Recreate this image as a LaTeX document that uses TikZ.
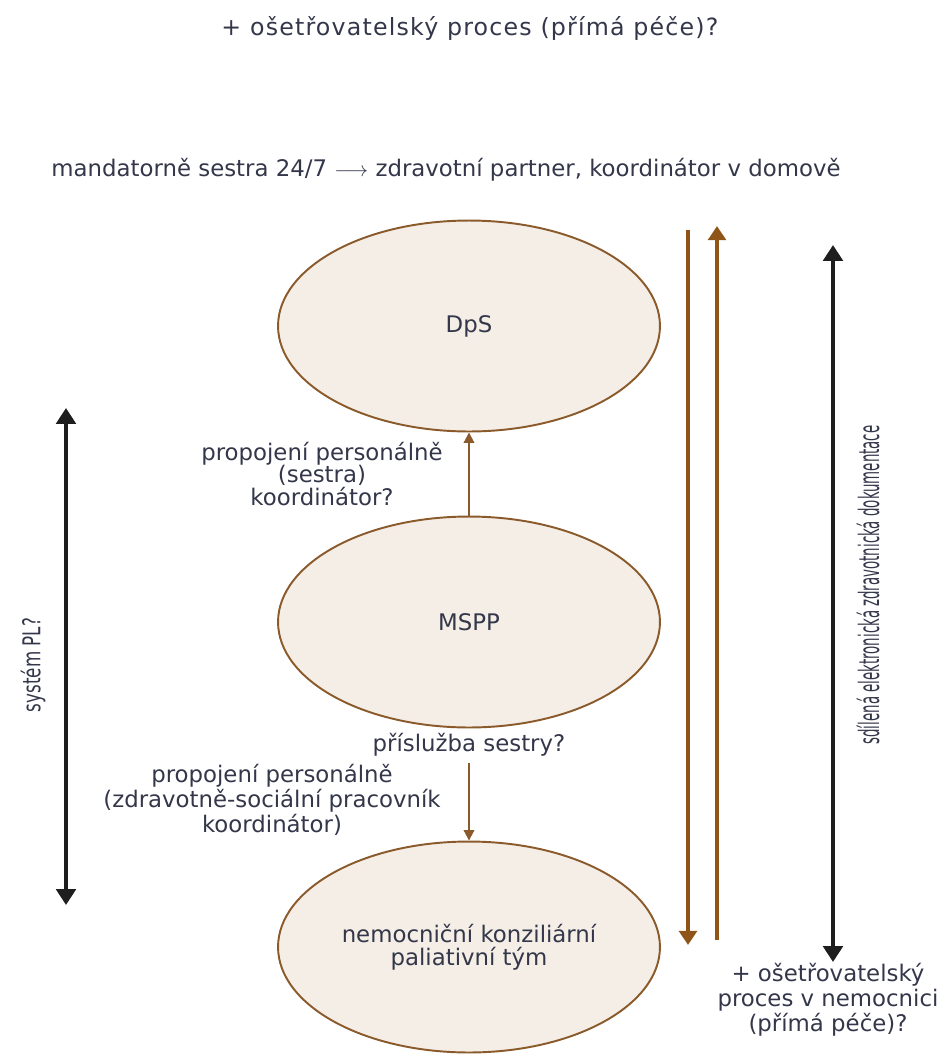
\documentclass[tikz,border=0pt]{standalone}
\usepackage{fontspec}
\setmainfont{DejaVu Sans}
\usetikzlibrary{shapes.geometric, arrows.meta}

\definecolor{hneda}{HTML}{8B5A2B}
\definecolor{hnedasipka}{HTML}{8E5418}
\definecolor{bezova}{HTML}{F4EEE6}
\definecolor{textbarva}{HTML}{34374A}
\definecolor{cerna}{HTML}{1E1E1E}

\begin{document}
\begin{tikzpicture}[x=0.02cm, y=-0.02cm,
    every node/.style={text=textbarva, font=\fontsize{13}{13}\selectfont, align=center},
    ovalnode/.style={ellipse, draw=hneda, fill=bezova, line width=1.1pt, minimum width=7.64cm, minimum height=4.22cm, inner sep=0pt},
    spoj/.style={draw=hneda, line width=1.1pt, -{Triangle[width=6pt, length=6pt]}},
    hnedaosa/.style={draw=hnedasipka, line width=2.8pt, -{Triangle[width=10pt, length=8pt]}},
    cernaosa/.style={draw=cerna, line width=2.8pt, {Triangle[width=11pt, length=9pt]}-{Triangle[width=11pt, length=9pt]}}]
    \useasboundingbox (0,0) rectangle (945,1056);
    % Ovals
    \node[ovalnode] (DpS) at (469,326) {DpS};
    \node[ovalnode] (MSPP) at (469,622) {MSPP};
    \node[ovalnode] (PT) at (469,947) {nemocniční konziliární\\paliativní tým};
    % Texts
    \node[font=\fontsize{13.5}{14}\selectfont\addfontfeatures{LetterSpace=5}] (top) at (470,28) {+ ošetřovatelský proces (přímá péče)?};
    \node (mandat) at (446,170) {mandatorně sestra 24/7 $\longrightarrow$ zdravotní partner, koordinátor v domově};
    \node (lab1) at (322,474) {propojení personálně\\(sestra)\\koordinátor?};
    \node (sluzba) at (469,745) {příslužba sestry?};
    \node (lab2) at (272,800) {propojení personálně\\(zdravotně-sociální pracovník\\koordinátor)};
    \node[font=\fontsize{13}{14.2}\selectfont] (nemoc) at (828,1000) {+ ošetřovatelský\\proces v nemocnici\\(přímá péče)?};
    \node[rotate=90, font=\fontsize{14}{14}\selectfont] (PL) at (33,665) {\scalebox{0.68}[1]{systém PL?}};
    \node[rotate=90, font=\fontsize{16}{16}\selectfont] (EZD) at (868,585) {\scalebox{0.475}[1]{sdílená elektronická zdravotnická dokumentace}};
    % Ends of the long arrows
    \foreach \name/\x/\ya/\yb in {PL/66/905/408, dolu/688/230/945, nahoru/717/940/226, ezd/833/962/245} {
        \coordinate (\name-a) at (\x,\ya);
        \coordinate (\name-b) at (\x,\yb);
    }
    % Arrows
    \draw[spoj] (MSPP) -- (DpS);
    \draw[spoj] (sluzba) -- (PT);
    \draw[hnedaosa] (dolu-a) -- (dolu-b);
    \draw[hnedaosa] (nahoru-a) -- (nahoru-b);
    \draw[cernaosa] (PL-a) -- (PL-b);
    \draw[cernaosa] (ezd-a) -- (ezd-b);
\end{tikzpicture}
\end{document}
